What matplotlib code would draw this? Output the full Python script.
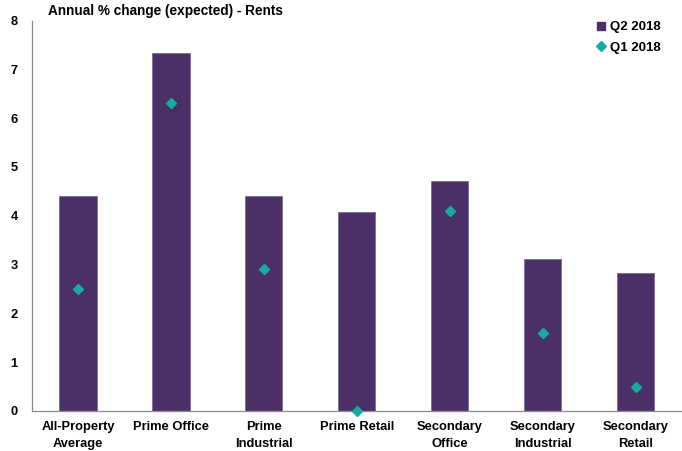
import matplotlib
matplotlib.use('Agg')
import matplotlib.pyplot as plt
from matplotlib.lines import Line2D
import numpy as np

plt.rcParams['font.family'] = ['Liberation Sans', 'DejaVu Sans']

categories = ['All-Property\nAverage', 'Prime Office', 'Prime\nIndustrial', 'Prime Retail',
              'Secondary\nOffice', 'Secondary\nIndustrial', 'Secondary\nRetail']
q2_2018 = [4.41, 7.33, 4.40, 4.08, 4.72, 3.11, 2.82]
q1_2018 = [2.5, 6.3, 2.9, 0.0, 4.1, 1.6, 0.5]

BAR = '#4B3068'
DOT = '#16ABA0'

fig = plt.figure(figsize=(6.82, 4.51), dpi=100)
ax = fig.add_axes([0.0463, 0.0887, 0.9537, 0.8658])
x = np.arange(len(categories))
ax.bar(x, q2_2018, width=0.40, color=BAR, edgecolor='#7E6A97', linewidth=0.6, zorder=2)
ax.plot(x, q1_2018, 'D', color=DOT, ms=4.6, ls='none', zorder=3, clip_on=False)

ax.set_xlim(-0.5, len(categories) - 0.5)
ax.set_ylim(0, 8)
ax.set_yticks(range(0, 9))
ax.set_xticks(x)
ax.set_xticklabels(categories, fontsize=9.3, fontweight='bold', linespacing=1.5)
ax.tick_params(axis='y', labelsize=9.3, length=0, pad=10)
ax.tick_params(axis='x', length=0, pad=7.5)
for lab in ax.get_yticklabels():
    lab.set_fontweight('bold')
for s in ['top', 'right']:
    ax.spines[s].set_visible(False)
for s in ['left', 'bottom']:
    ax.spines[s].set_color('#8C8C8C')
    ax.spines[s].set_linewidth(0.9)

fig.text(0.071, 0.975, 'Annual % change (expected) - Rents', fontsize=9.8, fontweight='bold', va='center')

# legend: bar series first, then the diamonds
handles = [Line2D([], [], marker='s', color=BAR, ls='none', ms=6),
           Line2D([], [], marker='D', color=DOT, ls='none', ms=4.6)]
ax.legend(handles, ['Q2 2018', 'Q1 2018'], loc='upper left', bbox_to_anchor=(0.862, 1.012),
          frameon=False, prop={'size': 9.5, 'weight': 'bold'}, handlelength=0.6,
          handletextpad=0.35, labelspacing=0.6, borderaxespad=0)
fig.savefig('out.png', dpi=100)
